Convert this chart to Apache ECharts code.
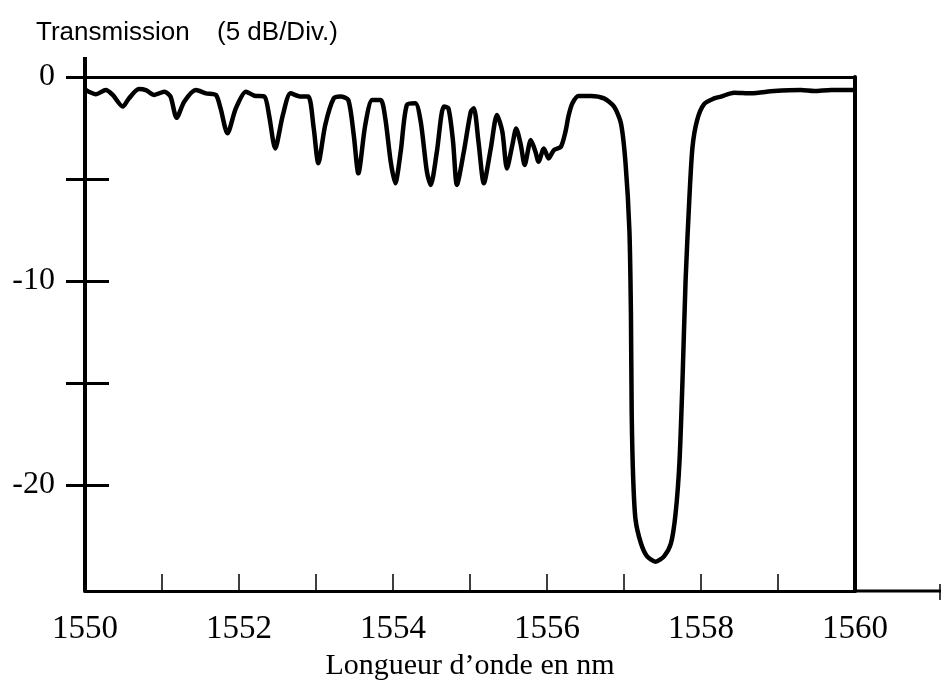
<!DOCTYPE html>
<html>
<head>
<meta charset="utf-8">
<script src="https://cdn.jsdelivr.net/npm/echarts@6.0.0/dist/echarts.min.js"></script>
<style>
  html, body { margin: 0; padding: 0; background: #fff; }
  #main { width: 942px; height: 688px; }
</style>
</head>
<body>
<div id="main"></div>
<script>
  // longueur d'onde (nm) / transmission (dB)
  var wavelength = [
    1550.00, 1550.05, 1550.14, 1550.27, 1550.36, 1550.49, 1550.57, 1550.70, 1550.79, 1550.90,
    1551.03, 1551.11, 1551.19, 1551.29, 1551.44, 1551.57, 1551.70, 1551.76, 1551.85, 1551.96,
    1552.09, 1552.20, 1552.33, 1552.39, 1552.47, 1552.57, 1552.67, 1552.80, 1552.90, 1552.97,
    1553.03, 1553.12, 1553.23, 1553.32, 1553.42, 1553.49, 1553.55, 1553.64, 1553.73, 1553.84,
    1553.90, 1553.97, 1554.03, 1554.10, 1554.18, 1554.29, 1554.36, 1554.44, 1554.49, 1554.57,
    1554.66, 1554.72, 1554.78, 1554.83, 1554.92, 1555.01, 1555.05, 1555.11, 1555.18, 1555.27,
    1555.35, 1555.42, 1555.48, 1555.55, 1555.60, 1555.66, 1555.71, 1555.79, 1555.85, 1555.89,
    1555.96, 1556.02, 1556.09, 1556.18, 1556.24, 1556.28, 1556.33, 1556.41, 1556.57, 1556.74,
    1556.87, 1556.96, 1557.02, 1557.07, 1557.09, 1557.10, 1557.12, 1557.15, 1557.22, 1557.30,
    1557.41, 1557.52, 1557.61, 1557.67, 1557.72, 1557.76, 1557.80, 1557.85, 1557.89, 1557.95,
    1558.04, 1558.17, 1558.26, 1558.43, 1558.65, 1558.95, 1559.30, 1559.47, 1559.69, 1560.00
  ];
  var transmission = [
    -0.60, -0.72, -0.85, -0.64, -0.88, -1.45, -1.05, -0.59, -0.64, -0.88,
    -0.72, -0.96, -2.00, -1.20, -0.64, -0.80, -0.88, -1.53, -2.76, -1.53,
    -0.72, -0.92, -0.96, -1.86, -3.50, -1.86, -0.80, -0.96, -0.96, -2.50,
    -4.23, -2.35, -1.05, -0.96, -1.13, -2.84, -4.72, -2.35, -1.13, -1.13,
    -2.03, -4.15, -5.21, -3.66, -1.37, -1.29, -2.19, -4.64, -5.29, -3.66,
    -1.45, -1.53, -3.17, -5.29, -3.66, -1.70, -1.53, -3.17, -5.21, -3.50,
    -1.86, -2.68, -4.48, -3.33, -2.52, -3.33, -4.31, -3.09, -3.66, -4.15,
    -3.50, -3.99, -3.58, -3.42, -2.68, -1.90, -1.29, -0.93, -0.93, -1.05,
    -1.45, -2.27, -4.23, -7.50, -11.6, -16.5, -19.75, -21.7, -22.86, -23.5,
    -23.76, -23.5, -22.86, -21.4, -18.9, -14.85, -9.95, -5.87, -3.42, -2.11,
    -1.33, -1.05, -0.96, -0.77, -0.80, -0.69, -0.64, -0.69, -0.64, -0.64
  ];
  var xTicks = [1551, 1552, 1553, 1554, 1555, 1556, 1557, 1558, 1559];
  var xLabels = [1550, 1552, 1554, 1556, 1558, 1560];
  var yTicks = [0, -5, -10, -15, -20];
  var yLabels = [0, -10, -20];

  var serif = '"Liberation Serif", "Times New Roman", serif';
  var sans = '"Liberation Sans", Arial, sans-serif';

  var points = wavelength.map(function (w, i) { return [w, transmission[i]]; });

  var chart = echarts.init(document.getElementById('main'), null, { renderer: 'canvas' });

  var option = {
    backgroundColor: '#fff',
    animation: false,
    title: [
      { text: 'Transmission', left: 31, top: 15, textStyle: { fontFamily: sans, fontSize: 26, fontWeight: 'normal', color: '#000' } },
      { text: '(5 dB/Div.)', left: 212, top: 15, textStyle: { fontFamily: sans, fontSize: 26, fontWeight: 'normal', color: '#000' } }
    ],
    grid: { left: 85, right: 87, top: 77, bottom: 97, show: false },
    xAxis: [{
      type: 'value', min: 1550, max: 1560, position: 'bottom',
      name: 'Longueur d\u2019onde en nm', nameLocation: 'middle', nameGap: 57,
      nameTextStyle: { fontFamily: serif, fontSize: 30, color: '#000' },
      axisLine: { onZero: false, lineStyle: { color: '#000', width: 3 } },
      axisTick: { inside: true, length: 17, customValues: xTicks, lineStyle: { color: '#000', width: 1.5 } },
      axisLabel: { customValues: xLabels, margin: 22, fontFamily: serif, fontSize: 33, color: '#000',
        formatter: function (v) { return String(v); } },
      splitLine: { show: false }
    }, {
      type: 'value', min: 1550, max: 1560, position: 'top',
      axisLine: { onZero: false, lineStyle: { color: '#000', width: 3 } },
      axisTick: { show: false }, axisLabel: { show: false }, splitLine: { show: false }
    }],
    yAxis: [{
      type: 'value', min: -25.2, max: 0, position: 'left',
      axisLine: { onZero: false, lineStyle: { color: '#000', width: 4 } },
      axisTick: { inside: false, length: 19, customValues: yTicks, lineStyle: { color: '#000', width: 3 } },
      axisLabel: { customValues: yLabels, margin: 30, fontFamily: serif, fontSize: 32, color: '#000' },
      splitLine: { show: false }
    }, {
      type: 'value', min: -25.2, max: 0, position: 'left',
      axisLine: { show: false },
      axisTick: { inside: true, length: 24, customValues: yTicks, lineStyle: { color: '#000', width: 3 } },
      axisLabel: { show: false }, splitLine: { show: false }
    }, {
      type: 'value', min: -25.2, max: 0, position: 'right',
      axisLine: { onZero: false, lineStyle: { color: '#000', width: 4 } },
      axisTick: { show: false }, axisLabel: { show: false }, splitLine: { show: false }
    }],
    series: [{
      type: 'line',
      data: points,
      xAxisIndex: 0,
      yAxisIndex: 0,
      smooth: 0.25,
      showSymbol: false,
      lineStyle: { color: '#000', width: 4.5 },
      z: 3
    }]
  };
  chart.setOption(option);

  // prolongements des axes (haut de l'axe vertical, bout de l'axe horizontal)
  var topLeft = chart.convertToPixel({ xAxisIndex: 0, yAxisIndex: 0 }, [1550, 0]);
  var botRight = chart.convertToPixel({ xAxisIndex: 0, yAxisIndex: 0 }, [1560, -25.2]);
  chart.setOption({
    graphic: [
      { type: 'line', shape: { x1: topLeft[0], y1: topLeft[1] - 20, x2: topLeft[0], y2: topLeft[1] }, style: { stroke: '#000', lineWidth: 4 } },
      { type: 'line', shape: { x1: botRight[0], y1: botRight[1], x2: 941, y2: botRight[1] }, style: { stroke: '#000', lineWidth: 3 } },
      { type: 'line', shape: { x1: 940, y1: botRight[1] - 7, x2: 940, y2: botRight[1] + 9 }, style: { stroke: '#000', lineWidth: 1.5 } }
    ]
  });
</script>
</body>
</html>
